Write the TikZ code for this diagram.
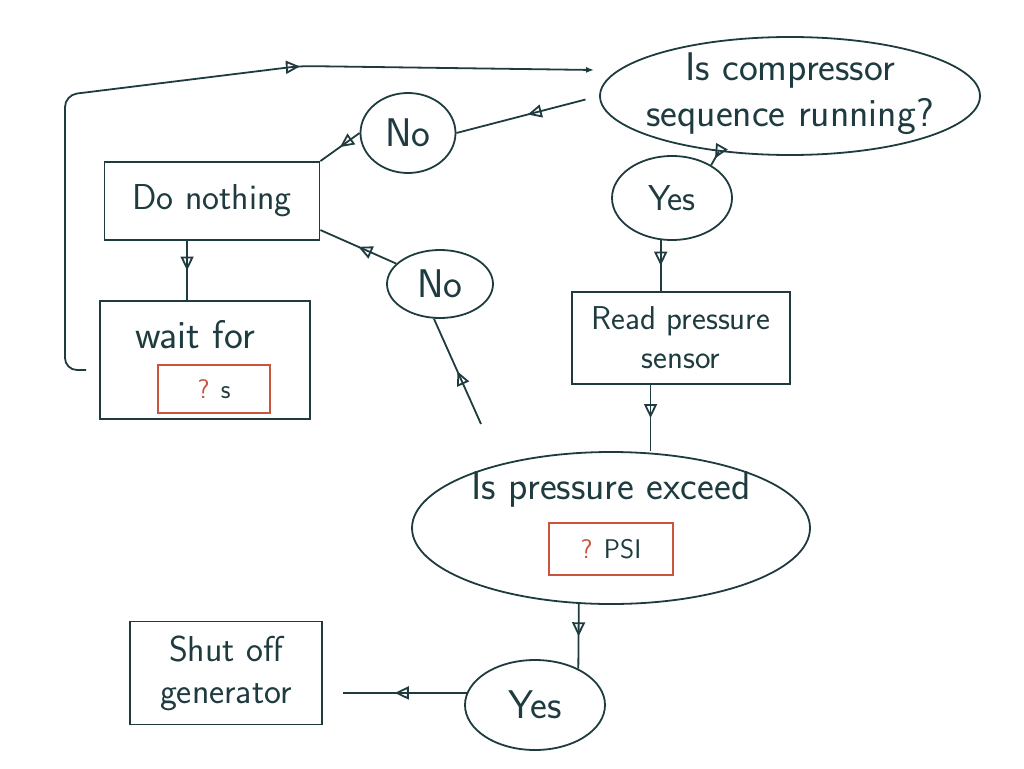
\documentclass[tikz,border=0pt]{standalone}
\usetikzlibrary{arrows.meta,shapes.geometric,decorations.markings}
\definecolor{ink}{HTML}{1E3B3F}
\definecolor{redpen}{HTML}{C9553F}

\begin{document}
\begin{tikzpicture}[x=1pt,y=-1pt,
  font=\sffamily\fontsize{36}{42}\selectfont,
  oval/.style={ellipse, draw=ink, line width=1.8pt, inner sep=0pt, text=ink, align=center},
  box/.style={rectangle, draw=ink, line width=1.8pt, inner sep=0pt, text=ink, align=center},
  redbox/.style={rectangle, draw=redpen, line width=1.8pt, inner sep=0pt, text=ink, font=\sffamily\fontsize{27}{33}\selectfont},
  txt/.style={text=ink, inner sep=0pt, align=center},
  big/.style={font=\sffamily\fontsize{40}{46}\selectfont},
  flow/.style={draw=ink, line width=1.8pt, postaction={decorate},
    decoration={markings, mark=at position #1 with {\arrow{Triangle[open,length=14pt,width=13pt]}}}},
  flow/.default=0.5]
\useasboundingbox (0,0) rectangle (1024,768);
\node[oval, minimum width=380, minimum height=118] (cmp) at (790,96) {};
\node[txt, big] (cmptxt) at (790,94) {Is compressor\\sequence running?};
\node[oval, big, minimum width=95, minimum height=80] (no1) at (408,133) {No};
\node[box, minimum width=215, minimum height=78] (dn) at (212,201) {Do nothing};
\node[oval, minimum width=120, minimum height=84] (yes1) at (672,198) {Yes};
\node[oval, big, minimum width=106, minimum height=68] (no2) at (440,284) {No};
\node[box, minimum width=210, minimum height=118] (wt) at (205,360) {};
\node[txt, big] (wttxt) at (195,335) {wait for};
\node[redbox, minimum width=112, minimum height=48] (wtval) at (214,389) {\textcolor{redpen}{?} s};
\node[box, font=\sffamily\fontsize{33}{39}\selectfont, minimum width=218, minimum height=92] (rd) at (681,338) {Read pressure\\sensor};
\node[oval, minimum width=398, minimum height=152] (prs) at (611,528) {};
\node[txt, big] (prstxt) at (611,490) {Is pressure exceed};
\node[redbox, minimum width=124, minimum height=52] (prsval) at (611,549) {\textcolor{redpen}{?} PSI};
\node[oval, big, minimum width=140, minimum height=90] (yes2) at (535,705) {Yes};
\node[box, minimum width=192, minimum height=103] (sh) at (226,673) {Shut off\\generator};
\coordinate (prsup) at (481,424);
\draw[flow, shorten <=14pt] (cmp.west) -- (no1.east);
\draw[flow] (no1.west) -- (dn.north east);
\draw[flow] (cmp.-142) -- (yes1.40);
\draw[flow] (yes1.-105) -- (yes1.-105 |- rd.north);
\draw[flow] (rd.-123) -- (rd.-123 |- prs.north);
\draw[flow] (prsup) -- (no2.-100);
\draw[flow] (no2.155) -- (dn.-15);
\draw[flow] (dn.-122) -- (dn.-122 |- wt.north);
\draw[flow] (prs.-113.5) -- (yes2.40);
\draw[flow, shorten >=20pt] (yes2.170) -- (yes2.170 -| sh.east);
\draw[flow=0.64, rounded corners=12pt, -{Latex[length=8pt]}] ([xshift=-13pt,yshift=-10pt]wt.west) -- (65,370) -- (65,95) -- (300,66) -- ([xshift=-5pt,yshift=26pt]cmp.west);
\end{tikzpicture}
\end{document}
